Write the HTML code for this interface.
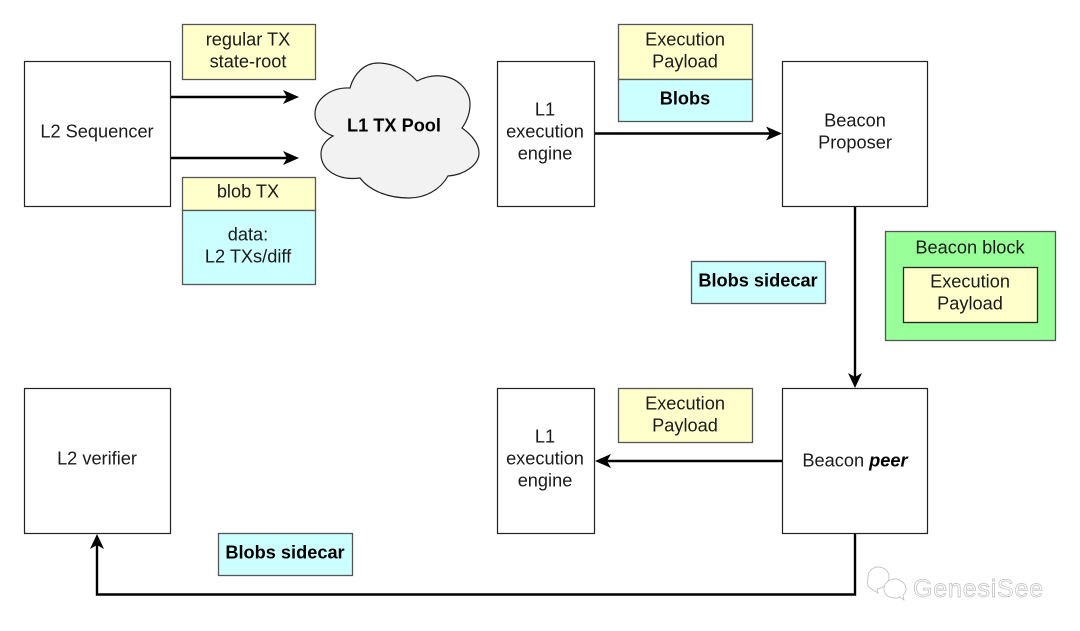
<!DOCTYPE html>
<html>
<head>
<meta charset="utf-8">
<style>
html,body{margin:0;padding:0;background:#fff}
svg{display:block}
text{font-family:"Liberation Sans",sans-serif;font-size:18.2px;fill:#1a1a1a;text-anchor:middle}
.b{font-weight:bold;fill:#000}
.box{fill:#fff;stroke:#222;stroke-width:1.2}
.y{fill:#ffffcc;stroke:#555;stroke-width:1.3}
.c{fill:#ccffff;stroke:#555;stroke-width:1.3}
.l{fill:none;stroke:#000;stroke-width:2.4}
</style>
</head>
<body>
<svg width="1080" height="631" viewBox="0 0 1080 631" xmlns="http://www.w3.org/2000/svg">
<rect width="1080" height="631" fill="#fff"/>

<!-- L2 Sequencer -->
<rect class="box" x="24.5" y="61.5" width="146" height="145"/>
<text x="97" y="137.500">L2 Sequencer</text>

<!-- regular TX -->
<rect class="y" x="182.500" y="24.500" width="133" height="55"/>
<text x="248" y="45.500">regular TX</text>
<text x="248" y="67.500">state-root</text>

<!-- blob TX -->
<rect class="y" x="182.500" y="177.500" width="133" height="33"/>
<text x="248" y="197.500">blob TX</text>
<rect class="c" x="182.500" y="210.500" width="133" height="74"/>
<text x="248" y="240.500">data:</text>
<text x="248" y="262.500">L2 TXs/diff</text>

<!-- arrows to pool -->
<path class="l" d="M171 97H290"/>
<path d="M299 97L283 90L287 97L283 104Z" fill="#000"/>
<path class="l" d="M171 158H290"/>
<path d="M299 158L283 151L287 158L283 165Z" fill="#000"/>

<!-- Cloud -->
<path d="M333 136C322 132 315 124 315 114C315 99 331 87 350 88C354 73 365 63 378 63C393 63 407 70 417 81C425 77 433 75 441 76C457 77 470 90 470 104C470 113 467 121 462 128C472 135 479 144 479 153C479 165 464 175 448 176C440 190 425 198 409 198C387 198 369 190 360 178C338 181 321 170 321 154C321 146 326 140 333 136Z" fill="#f2f2f2" stroke="#222" stroke-width="1.200"/>
<text class="b" x="394" y="131.500">L1 TX Pool</text>

<!-- L1 exec engine top -->
<rect class="box" x="497.500" y="61.500" width="97" height="145"/>
<text x="545" y="115.500">L1</text>
<text x="545" y="137.500">execution</text>
<text x="545" y="159.500">engine</text>

<!-- Execution payload + blobs -->
<rect class="y" x="618.500" y="24.500" width="134" height="55"/>
<text x="685" y="45.500">Execution</text>
<text x="685" y="67.500">Payload</text>
<rect class="c" x="618.500" y="79.500" width="134" height="42"/>
<text class="b" x="685" y="104.500">Blobs</text>

<path class="l" d="M595 133.500H773"/>
<path d="M782 133.500L766 126.500L770 133.500L766 140.500Z" fill="#000"/>

<!-- Beacon Proposer -->
<rect class="box" x="782.500" y="61.500" width="145" height="145"/>
<text x="855" y="126.500">Beacon</text>
<text x="855" y="148.500">Proposer</text>

<!-- Proposer -> peer -->
<path class="l" d="M855 207V378"/>
<path d="M855 388L848 373L855 377L862 373Z" fill="#000"/>

<!-- Blobs sidecar 1 -->
<rect class="c" x="691.500" y="261.500" width="134" height="42"/>
<text class="b" x="758" y="286.500">Blobs sidecar</text>

<!-- Beacon block -->
<rect x="885.500" y="231.500" width="170" height="109" fill="#99ff99" stroke="#555" stroke-width="1.300"/>
<text x="970" y="253.500">Beacon block</text>
<rect class="y" x="903.500" y="267.500" width="134" height="55" style="stroke:#222"/>
<text x="970" y="287.500">Execution</text>
<text x="970" y="309.500">Payload</text>

<!-- Beacon peer -->
<rect class="box" x="782.500" y="388.500" width="145" height="145"/>
<text x="855" y="466.500">Beacon <tspan font-weight="bold" font-style="italic" fill="#000">peer</tspan></text>

<!-- peer -> L1 exec -->
<path class="l" d="M782 461H604"/>
<path d="M595 461L611 454L607 461L611 468Z" fill="#000"/>

<!-- Execution Payload lower -->
<rect class="y" x="618.500" y="388.500" width="134" height="54"/>
<text x="685" y="409.500">Execution</text>
<text x="685" y="431.500">Payload</text>

<!-- L1 exec engine bottom -->
<rect class="box" x="497.500" y="388.500" width="97" height="145"/>
<text x="545" y="442.500">L1</text>
<text x="545" y="464.500">execution</text>
<text x="545" y="486.500">engine</text>

<!-- L2 verifier -->
<rect class="box" x="24.500" y="388.500" width="146" height="145"/>
<text x="97" y="464.500">L2 verifier</text>

<!-- Blobs sidecar 2 -->
<rect class="c" x="218.500" y="533.500" width="134" height="42"/>
<text class="b" x="285" y="558.500">Blobs sidecar</text>

<!-- peer -> verifier -->
<path class="l" d="M855 534V594.500H97V543"/>
<path d="M97 534L90 549L97 545L104 549Z" fill="#000"/>

<!-- Watermark -->
<g fill="#fff" stroke="#c4c4c4" stroke-width="0.900">
<path d="M889 577C889 584 883 588 877 589L878 593L870 588C866 585 868 581 868 577C868 571 873 567 878 567C884 567 889 571 889 577Z"/>
<path d="M906 589C906 583 900 579 895 579C889 579 884 583 884 589C884 595 889 598 895 598C897 598 899 598 900 597L904 600L903 595C905 594 906 591 906 589Z"/>
</g>
<text x="978.500" y="597" style="font-size:25px;letter-spacing:0.800px;fill:#fff;stroke:#bdbdbd;stroke-width:0.700px">GenesiSee</text>
</svg>
</body>
</html>
